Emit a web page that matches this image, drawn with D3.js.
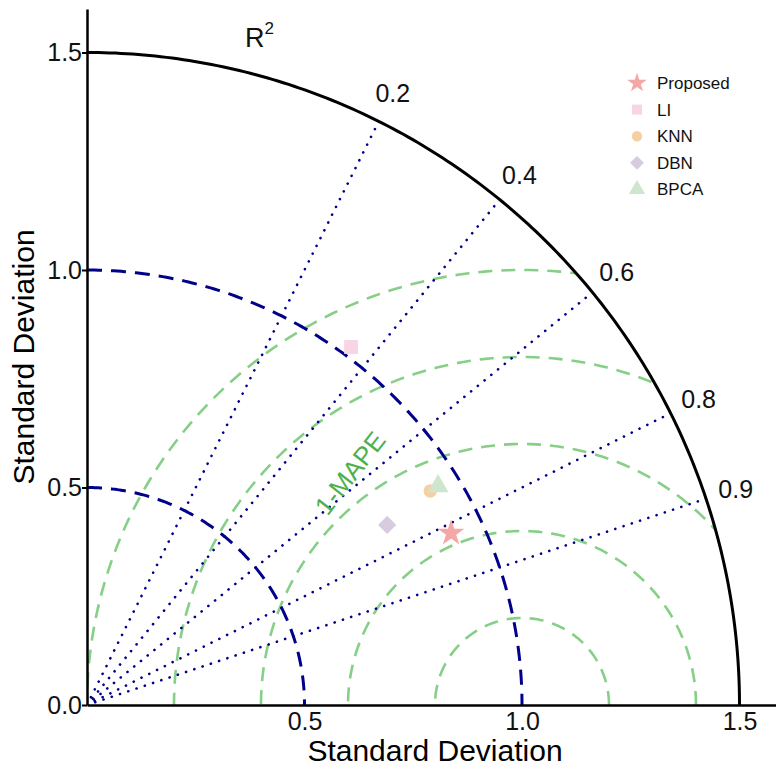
<!DOCTYPE html>
<html>
<head>
<meta charset="utf-8">
<script src="https://cdn.jsdelivr.net/npm/d3@7"></script>
<style>
  body { margin: 0; background: #fff; }
  text { font-family: "Liberation Sans", Arial, sans-serif; }
</style>
</head>
<body>
<div id="taylor"></div>
<script>
// model names and their statistics (std dev along x / y)
var models = ["Proposed", "LI", "KNN", "DBN", "BPCA"];
var sdX = [0.837, 0.607, 0.789, 0.690, 0.807];
var sdY = [0.395, 0.823, 0.492, 0.414, 0.503];
var colors = ["#f3a8a6", "#f8d4e4", "#f5d0a3", "#d7cbe0", "#cde6cd"];
var shapes = [d3.symbolStar, d3.symbolSquare, d3.symbolCircle, d3.symbolSquare, d3.symbolTriangle];

// grid values
var r2Values = [0.2, 0.4, 0.6, 0.8, 0.9];
var sdArcs = [0.5, 1.0];
var mapeArcs = [0.2, 0.4, 0.6, 0.8, 1.0];
var sdTicks = [0.5, 1.0, 1.5];
var sdTicksY = [0.0, 0.5, 1.0, 1.5];
var maxSd = 1.5;

var width = 776, height = 771;
var ox = 87, oy = 705, k = 435;

var svg = d3.select("#taylor")
  .append("svg")
    .attr("width", width)
    .attr("height", height);

var x = d3.scaleLinear().domain([0, (width - ox) / k]).range([ox, width]);
var y = d3.scaleLinear().domain([0, 1.6]).range([oy, oy - 1.6 * k]);

// clip to the quarter circle
svg.append("clipPath").attr("id", "quarter")
  .append("path")
    .attr("transform", "translate(" + ox + "," + oy + ")")
    .attr("d", d3.arc()({innerRadius: 0, outerRadius: k * maxSd, startAngle: 0, endAngle: Math.PI / 2}));

var line = d3.line().x(function(d) { return x(d[0]); }).y(function(d) { return y(d[1]); });
function arcPts(cx, r, a0, a1) {
  var pts = [];
  for (var i = 0; i <= 180; i++) {
    var t = a0 + (a1 - a0) * i / 180;
    pts.push([cx + r * Math.cos(t), r * Math.sin(t)]);
  }
  return pts;
}

var grid = svg.append("g").attr("clip-path", "url(#quarter)");

// 1-MAPE arcs around reference point
grid.selectAll(".mape")
  .data(mapeArcs)
  .enter()
  .append("path")
    .attr("d", function(d) { return line(arcPts(1, d, 0, Math.PI)); })
    .attr("fill", "none")
    .attr("stroke", "#86cf86")
    .attr("stroke-width", 2.6)
    .attr("stroke-dasharray", "14,9");

// R2 dotted rays
grid.selectAll(".ray")
  .data(r2Values)
  .enter()
  .append("path")
    .attr("d", function(d) {
      var a = Math.acos(Math.sqrt(d));
      return line([[0, 0], [maxSd * Math.cos(a), maxSd * Math.sin(a)]]);
    })
    .attr("stroke", "#00008b")
    .attr("stroke-width", 2.6)
    .attr("stroke-linecap", "round")
    .attr("stroke-dasharray", "0.1,8.6");

// std dev dashed arcs
grid.selectAll(".sd")
  .data(sdArcs)
  .enter()
  .append("path")
    .attr("d", function(d) { return line(arcPts(0, d, Math.PI / 2, 0)); })
    .attr("fill", "none")
    .attr("stroke", "#00008b")
    .attr("stroke-width", 3)
    .attr("stroke-dasharray", "15,9");

// outer arc
svg.append("path")
  .attr("d", line(arcPts(0, maxSd, 0, Math.PI / 2)))
  .attr("fill", "none")
  .attr("stroke", "#000")
  .attr("stroke-width", 3);

// axes
var yAxis = svg.append("g")
  .attr("transform", "translate(" + ox + ",0)")
  .call(d3.axisLeft(y).tickValues(sdTicksY).tickFormat(d3.format(".1f")).tickSize(5).tickSizeOuter(0));
yAxis.select(".domain").attr("stroke-width", 2.5);
yAxis.selectAll(".tick line").attr("stroke-width", 2);
yAxis.selectAll("text").attr("font-size", 25).attr("fill", "#111").attr("dx", "3");

var xAxis = svg.append("g")
  .attr("transform", "translate(0," + oy + ")")
  .call(d3.axisBottom(x).tickValues(sdTicks).tickFormat(d3.format(".1f")).tickSize(0).tickSizeOuter(0).tickPadding(7));
xAxis.select(".domain").attr("stroke-width", 2.5);
xAxis.selectAll("text").attr("font-size", 25).attr("fill", "#111");

svg.append("text")
  .attr("x", 435).attr("y", 761)
  .attr("text-anchor", "middle")
  .attr("font-size", 30)
  .text("Standard Deviation");

svg.append("text")
  .attr("transform", "translate(34,357) rotate(-90)")
  .attr("text-anchor", "middle")
  .attr("font-size", 30)
  .text("Standard Deviation");

// R2 labels
svg.selectAll(".r2lab")
  .data(r2Values)
  .enter()
  .append("text")
    .attr("x", function(d) { return x(1.572 * Math.sqrt(d)); })
    .attr("y", function(d) { return y(1.572 * Math.sin(Math.acos(Math.sqrt(d)))); })
    .attr("text-anchor", "middle")
    .attr("dy", "0.35em")
    .attr("font-size", 25)
    .attr("fill", "#111")
    .text(function(d) { return d.toFixed(1); });

var rl = svg.append("text")
  .attr("x", 245).attr("y", 47)
  .attr("font-size", 27)
  .attr("fill", "#111");
rl.append("tspan").text("R");
rl.append("tspan").attr("font-size", 17).attr("dy", -13).text("2");

svg.append("text")
  .attr("transform", "translate(350,473) rotate(-52)")
  .attr("text-anchor", "middle")
  .attr("dy", "0.35em")
  .attr("font-size", 26)
  .attr("fill", "#4cb04c")
  .text("1-MAPE");

// model points
svg.selectAll(".pt")
  .data(models)
  .enter()
  .append("path")
    .attr("transform", function(d, i) {
      return "translate(" + x(sdX[i]) + "," + y(sdY[i]) + ")" + (i === 3 ? " rotate(45)" : "");
    })
    .attr("d", function(d, i) {
      var sz = [220, 190, 140, 165, 190][i];
      return d3.symbol().type(shapes[i]).size(sz)();
    })
    .attr("fill", function(d, i) { return colors[i]; });

// legend
var leg = svg.append("g").attr("transform", "translate(637,83)");
var row = leg.selectAll(".row")
  .data(models)
  .enter()
  .append("g")
    .attr("transform", function(d, i) { return "translate(0," + (i * 26.6) + ")"; });
row.append("path")
  .attr("transform", function(d, i) { return i === 3 ? "rotate(45)" : null; })
  .attr("d", function(d, i) {
    var sz = [120, 100, 85, 95, 115][i];
    return d3.symbol().type(shapes[i]).size(sz)();
  })
  .attr("fill", function(d, i) { return colors[i]; });
row.append("text")
  .attr("x", 20)
  .attr("dy", "0.35em")
  .attr("font-size", 17)
  .attr("fill", "#111")
  .text(function(d) { return d; });
</script>
</body>
</html>
